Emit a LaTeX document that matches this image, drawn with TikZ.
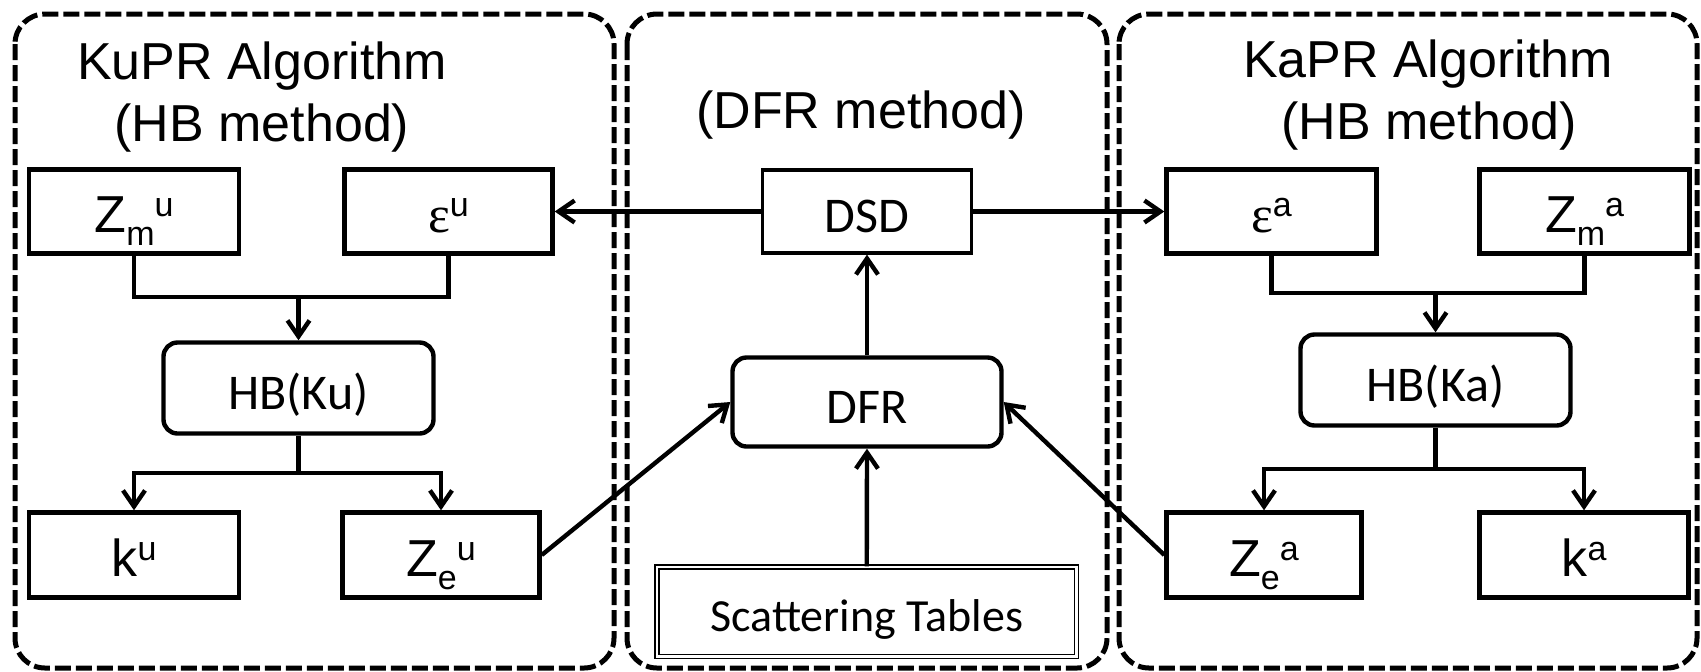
\documentclass[tikz,border=0pt]{standalone}
\usepackage{fontspec}
\setmainfont{Liberation Sans}
\newfontfamily\calibrifont{Carlito}
\newfontfamily\serifgreek{Liberation Serif}
\usetikzlibrary{arrows.meta}
\newcommand\scrsize[1]{{\fontsize{17}{17}\selectfont #1}}
\newcommand\suplab[1]{\raisebox{8pt}{\scrsize{#1}}}
\newcommand\sublab[1]{\raisebox{-6.5pt}{\scrsize{#1}}}
\begin{document}
\begin{tikzpicture}[x=0.5pt,y=-0.5pt,
  group/.style={line width=2.5pt, dash pattern=on 8pt off 2.5pt, rounded corners=15pt},
  title/.style={anchor=base, inner sep=0pt, font=\fontsize{26}{31}\selectfont},
  box/.style={draw, line width=2.2pt, inner sep=0pt, text height=21pt, text depth=0pt,
              font=\fontsize{26}{26}\selectfont},
  cbox/.style={box, font=\calibrifont\fontsize{25}{25}\selectfont},
  rbox/.style={cbox, rounded corners=7pt, minimum width=135pt, minimum height=45.5pt},
  conn/.style={line width=2.2pt},
  arr/.style={conn, -{Straight Barb[length=8pt,width=11pt]}}
]
\useasboundingbox (0,0) rectangle (1701,671);

% dashed groups
\draw[group] (15,14) rectangle (614,668);
\draw[group] (627,14) rectangle (1107,668);
\draw[group] (1119,14) rectangle (1697,668);

% titles
\node[title] (tL1) at (262,79) {KuPR Algorithm};
\node[title] (tL2) at (262,141) {(HB method)};
\node[title] (tM) at (861,128) {(DFR method)};
\node[title] (tR1) at (1428,77) {KaPR Algorithm};
\node[title] (tR2) at (1429,139) {(HB method)};

% left boxes
\node[box, minimum width=105pt, minimum height=42pt] (Zmu) at (134,211.5) {Z\sublab{m}\suplab{u}};
\node[box, minimum width=104pt, minimum height=42pt] (eu) at (448.5,211.5) {{\serifgreek ε}\suplab{u}};
\node[rbox] (HBKu) at (298.5,388) {HB(Ku)};
\node[box, minimum width=105pt, minimum height=42.5pt] (ku) at (134,555) {k\suplab{u}};
\node[box, minimum width=98.5pt, minimum height=42.5pt] (Zeu) at (441,555) {Z\sublab{e}\suplab{u}};

% middle boxes
\node[cbox, line width=1.6pt, minimum width=104.5pt, minimum height=41.5pt] (DSD) at (867,211.5) {DSD};
\node[rbox, minimum width=134.5pt, minimum height=44.5pt] (DFR) at (867,402) {DFR};
\node[draw, double, line width=0.65pt, double distance=1.3pt, inner sep=0pt,
      minimum width=209.75pt, minimum height=44.75pt, text height=19.25pt, text depth=0pt,
      font=\calibrifont\fontsize{23}{23}\selectfont] (Scat) at (866.75,611.75) {Scattering Tables};

% right boxes
\node[box, minimum width=105pt, minimum height=42pt] (ea) at (1271.5,211.5) {{\serifgreek ε}\suplab{a}};
\node[box, minimum width=105pt, minimum height=42pt] (Zma) at (1584.5,211.5) {Z\sublab{m}\suplab{a}};
\node[rbox] (HBKa) at (1435.5,380) {HB(Ka)};
\node[box, minimum width=97.5pt, minimum height=42.5pt] (Zea) at (1264,555) {Z\sublab{e}\suplab{a}};
\node[box, minimum width=104.5pt, minimum height=42.5pt] (ka) at (1584,555) {k\suplab{a}};

% left connectors
\coordinate (jL) at (298.5,297);
\coordinate (bL) at (298.5,473);
\draw[conn] (Zmu.south) |- (jL) -| (eu.south);
\draw[arr] (jL) -- (HBKu.north);
\draw[conn] (HBKu.south) -- (bL);
\draw[arr] (bL) -| (ku.north);
\draw[arr] (bL) -| (Zeu.north);

% right connectors
\coordinate (jR) at (1435.5,293);
\coordinate (bR) at (1435.5,469);
\draw[conn] (ea.south) |- (jR) -| (Zma.south);
\draw[arr] (jR) -- (HBKa.north);
\draw[conn] (HBKa.south) -- (bR);
\draw[arr] (bR) -| (Zea.north);
\draw[arr] (bR) -| (ka.north);

% middle connectors
\draw[arr] (DFR.north) -- (DSD.south);
\draw[arr] (Scat.north) -- (DFR.south);
\draw[arr] (DSD.west) -- (eu.east);
\draw[arr] (DSD.east) -- (ea.west);
\draw[arr] (Zeu.east) -- (DFR.west);
\draw[arr] (Zea.west) -- (DFR.east);
\end{tikzpicture}
\end{document}
